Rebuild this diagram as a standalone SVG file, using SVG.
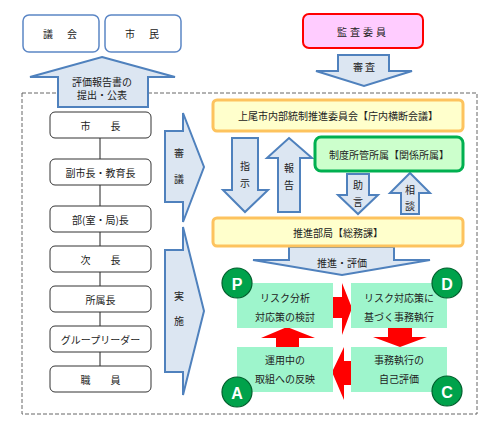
<svg xmlns="http://www.w3.org/2000/svg" width="500" height="430" viewBox="0 0 500 430">
<style>
text{font-family:"Noto Sans CJK JP","Noto Sans",sans-serif;font-size:10px;fill:#222;text-anchor:middle;dominant-baseline:central}
.top{fill:#fff;stroke:#5b86c5;stroke-width:1.5}
.blue{fill:#dce6f2;stroke:#4f81bd;stroke-width:2;stroke-linejoin:miter}
.org{fill:#fff;stroke:#333;stroke-width:1}
.yel{fill:#ffffcc;stroke:#fdc35e;stroke-width:3}
.grn{fill:#ccffcc;stroke:#00b050;stroke-width:3}
.mint{fill:#9ef5cc}
.red{fill:#ff0000}
.circ{fill:#00a24b;stroke:#005e2c;stroke-width:1.2}
.ctext{fill:#fff;font-family:"Liberation Sans",sans-serif;font-weight:bold;font-size:16px}
</style>
<rect width="500" height="430" fill="#fff"/>
<rect x="22" y="93" width="455" height="321" fill="none" stroke="#666" stroke-width="1" stroke-dasharray="4,2"/>

<g id="gikai"><rect class="top" x="23" y="15" width="76" height="37" rx="6"/><text x="61" y="33.5" letter-spacing="2">議　会</text></g>
<g id="shimin"><rect class="top" x="105" y="15" width="76" height="37" rx="6"/><text x="143" y="33.5" letter-spacing="2">市　民</text></g>
<g id="kansa"><rect x="303" y="14" width="120" height="34" rx="6" fill="#ffccff" stroke="#ff0000" stroke-width="2"/><text x="363" y="31" letter-spacing="3">監査委員</text></g>

<g id="connectors">
<path class="blue" d="M102,57 L175,77 H148 V107 H58 V77 H30 Z"/>
<text x="102" y="81" font-size="9">評価報告書の</text>
<text x="102" y="94.5" font-size="9">提出・公表</text>
<path class="blue" d="M338,55 H389 V71 H412 L364,86 L316,71 H338 Z"/>
<text x="364" y="66">審 査</text>
<path class="blue" d="M165,131 H183 V113 L204,167 L183,222 V202 H165 Z"/>
<text x="179" y="152">審</text><text x="179" y="178">議</text>
<path class="blue" d="M165,250 H183 V227 L204,311 L183,395 V372 H165 Z"/>
<text x="179" y="295">実</text><text x="179" y="320">施</text>
<path class="blue" d="M232,138 H258 V190 H268 L245,212 L223,190 H232 Z"/>
<text x="245" y="165">指</text><text x="245" y="182">示</text>
<path class="blue" d="M289,138 L312,158 H300 V212 H278 V158 H267 Z"/>
<text x="289" y="167">報</text><text x="289" y="184">告</text>
<path class="blue" d="M347,174 H369 V195 H378 L358,214 L338,195 H347 Z"/>
<text x="358" y="184">助</text><text x="358" y="201">言</text>
<path class="blue" d="M410,173 L430,193 H419 V214 H401 V193 H390 Z"/>
<text x="410" y="189">相</text><text x="410" y="205">談</text>
<path class="blue" d="M289,247 H394 V260 H430 L342,275 L253,260 H289 Z"/>
<text x="342" y="262">推進・評価</text>
<line x1="100" y1="138" x2="100" y2="366" stroke="#222" stroke-width="1"/>
<path class="red" d="M333,297 H342 V283 L352,308 L342,335 V318 H333 Z"/>
<path class="red" d="M388,327 H412 V337 H427 L400,347 L373,337 H388 Z"/>
<path class="red" d="M352,361 H344 V347 L332,372 L344,400 V385 H352 Z"/>
<path class="red" d="M276,347 V338 H261 L287,327 L315,338 H299 V347 Z"/>
</g>

<g id="shicho"><rect class="org" x="50" y="112" width="101" height="26" rx="5"/><text x="100.5" y="125">市　　長</text></g>
<g id="fukushicho"><rect class="org" x="50" y="159" width="101" height="26" rx="5"/><text x="100.5" y="172">副市長・教育長</text></g>
<g id="buchou"><rect class="org" x="50" y="206" width="101" height="26" rx="5"/><text x="100.5" y="219">部(室・局)長</text></g>
<g id="jichou"><rect class="org" x="50" y="246" width="101" height="26" rx="5"/><text x="100.5" y="259">次　　長</text></g>
<g id="shozokuchou"><rect class="org" x="50" y="286" width="101" height="26" rx="5"/><text x="100.5" y="299">所属長</text></g>
<g id="group"><rect class="org" x="50" y="326" width="101" height="26" rx="5"/><text x="100.5" y="339" font-size="9">グループリーダー</text></g>
<g id="shokuin"><rect class="org" x="50" y="366" width="101" height="26" rx="5"/><text x="100.5" y="379">職　　員</text></g>

<g id="iinkai"><rect class="yel" x="213" y="100" width="250" height="31" rx="4"/><text x="338" y="115.5">上尾市内部統制推進委員会【庁内横断会議】</text></g>
<g id="seido"><rect class="grn" x="315" y="137" width="148" height="34" rx="6"/><text x="389" y="154">制度所管所属【関係所属】</text></g>
<g id="suishin"><rect class="yel" x="213" y="218" width="250" height="28" rx="4"/><text x="338" y="232">推進部局【総務課】</text></g>

<g id="plan"><rect class="mint" x="237" y="283" width="96" height="45"/><text x="285" y="297">リスク分析</text><text x="285" y="316">対応策の検討</text></g>
<g id="do"><rect class="mint" x="351" y="283" width="96" height="45"/><text x="399" y="297">リスク対応策に</text><text x="399" y="316">基づく事務執行</text></g>
<g id="act"><rect class="mint" x="237" y="347" width="96" height="45"/><text x="285" y="359">運用中の</text><text x="285" y="378">取組への反映</text></g>
<g id="check"><rect class="mint" x="351" y="347" width="96" height="45"/><text x="399" y="359">事務執行の</text><text x="399" y="378">自己評価</text></g>

<g id="circleP"><circle class="circ" cx="237" cy="283" r="15"/><text class="ctext" x="237" y="284">P</text></g>
<g id="circleD"><circle class="circ" cx="447" cy="283" r="15"/><text class="ctext" x="447" y="284">D</text></g>
<g id="circleA"><circle class="circ" cx="237" cy="392" r="15"/><text class="ctext" x="237" y="393">A</text></g>
<g id="circleC"><circle class="circ" cx="447" cy="391" r="15"/><text class="ctext" x="447" y="392">C</text></g>
</svg>
